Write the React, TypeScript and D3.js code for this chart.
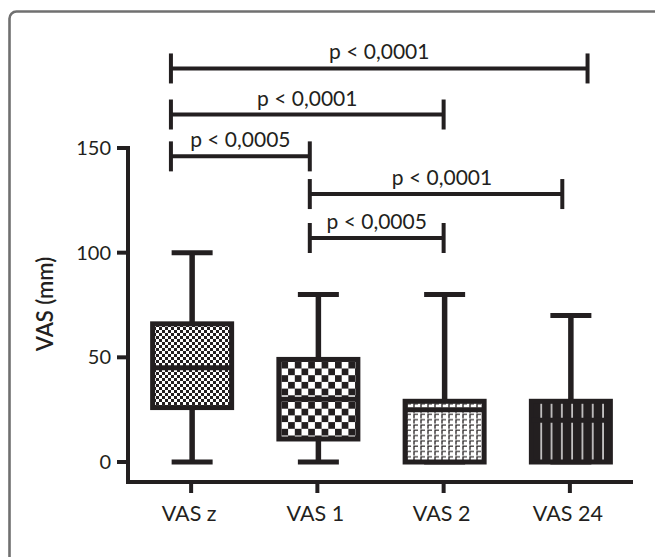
import React, { useEffect, useRef } from "react";
import * as d3 from "d3";

// box plot values (mm)
const categories = ["VAS z", "VAS 1", "VAS 2", "VAS 24"];
const mins = [0, 0, 0, 0];
const q1s = [26, 11, 0, 0];
const medians = [45, 30, 25, 20];
const q3s = [66, 49, 29, 29];
const maxs = [100, 80, 80, 70];
const fills = ["url(#checkSmall)", "url(#checkLarge)", "url(#hooks)", "url(#stripes)"];

const yTicks = [0, 50, 100, 150];

// significance brackets, ends given in category index units (0 = VAS z)
const bracketFrom = [-0.16, -0.16, -0.16, 0.94, 0.94];
const bracketTo = [3.14, 2.0, 0.94, 2.94, 2.0];
const bracketLevel = [188, 166, 146, 128, 107];
const bracketLabels = ["p < 0,0001", "p < 0,0001", "p < 0,0005", "p < 0,0001", "p < 0,0005"];

const ink = "#231f20";
const font = "Lato, 'Noto Sans', sans-serif";

const App = () => {
  const canvas = useRef<SVGSVGElement>(null);

  useEffect(() => {
    const svg = d3.select(canvas.current);
    svg.selectAll("*").remove();

    const x = d3.scalePoint().domain(categories).range([128, 633]).padding(0.5);
    const xIdx = d3.scaleLinear().domain([0, categories.length - 1])
      .range([x(categories[0])!, x(categories[categories.length - 1])!]);
    const y = d3.scaleLinear().domain([0, 150]).range([462, 148]);

    const defs = svg.append("defs");
    const small = defs.append("pattern").attr("id", "checkSmall")
      .attr("patternUnits", "userSpaceOnUse").attr("width", 6).attr("height", 6);
    small.append("rect").attr("width", 6).attr("height", 6).attr("fill", "#fff");
    small.append("rect").attr("width", 3).attr("height", 3).attr("fill", ink);
    small.append("rect").attr("x", 3).attr("y", 3).attr("width", 3).attr("height", 3).attr("fill", ink);

    const large = defs.append("pattern").attr("id", "checkLarge")
      .attr("patternUnits", "userSpaceOnUse").attr("width", 13.4).attr("height", 13.4);
    large.append("rect").attr("width", 13.4).attr("height", 13.4).attr("fill", "#fff");
    large.append("rect").attr("width", 6.7).attr("height", 6.7).attr("fill", ink);
    large.append("rect").attr("x", 6.7).attr("y", 6.7).attr("width", 6.7).attr("height", 6.7).attr("fill", ink);

    const hooks = defs.append("pattern").attr("id", "hooks")
      .attr("patternUnits", "userSpaceOnUse").attr("width", 7).attr("height", 5.3);
    hooks.append("rect").attr("width", 7).attr("height", 5.3).attr("fill", "#fff");
    hooks.append("path").attr("d", "M1,4.8 V1 H5").attr("fill", "none")
      .attr("stroke", ink).attr("stroke-width", 1.3);

    const stripes = defs.append("pattern").attr("id", "stripes")
      .attr("patternUnits", "userSpaceOnUse").attr("width", 10.3).attr("height", 10);
    stripes.append("rect").attr("width", 10.3).attr("height", 10).attr("fill", ink);
    stripes.append("rect").attr("x", 5).attr("width", 1.3).attr("height", 10).attr("fill", "#fff");

    // outer frame
    svg.append("rect")
      .attr("x", 9.5).attr("y", 11.5).attr("width", 660).attr("height", 580).attr("rx", 7)
      .attr("fill", "none").attr("stroke", "#707070").attr("stroke-width", 2.6);

    // axes
    const yAxis = svg.append("g");
    yAxis.append("line").attr("x1", 128).attr("x2", 128)
      .attr("y1", y(150) - 2).attr("y2", 484)
      .attr("stroke", ink).attr("stroke-width", 4);
    yAxis.selectAll(".tick").data(yTicks).enter().append("line")
      .attr("x1", 117).attr("x2", 128).attr("y1", (d) => y(d)).attr("y2", (d) => y(d))
      .attr("stroke", ink).attr("stroke-width", 4);
    yAxis.selectAll("text").data(yTicks).enter().append("text")
      .attr("x", 111).attr("y", (d) => y(d) + 7)
      .attr("text-anchor", "end").attr("font-family", font).attr("font-size", 20)
      .attr("fill", ink).text((d) => d);

    const xAxis = svg.append("g");
    xAxis.append("line").attr("x1", 126).attr("x2", 633).attr("y1", 482).attr("y2", 482)
      .attr("stroke", ink).attr("stroke-width", 4);
    xAxis.selectAll(".tick").data(categories).enter().append("line")
      .attr("x1", (d) => x(d)!).attr("x2", (d) => x(d)!).attr("y1", 482).attr("y2", 493)
      .attr("stroke", ink).attr("stroke-width", 4);
    xAxis.selectAll("text").data(categories).enter().append("text")
      .attr("x", (d) => x(d)! - 2).attr("y", 521)
      .attr("text-anchor", "middle").attr("font-family", font).attr("font-size", 21.5)
      .attr("fill", ink).text((d) => d);

    svg.append("text")
      .attr("transform", `translate(53,304) rotate(-90)`)
      .attr("text-anchor", "middle").attr("font-family", font).attr("font-size", 22)
      .attr("font-weight", 600).attr("fill", ink).text("VAS (mm)");

    // boxes
    const boxW = 79;
    const capW = 41;
    const g = svg.append("g");
    categories.forEach((c, i) => {
      const cx = x(c)! + 1;
      g.append("line").attr("x1", cx).attr("x2", cx)
        .attr("y1", y(maxs[i])).attr("y2", y(q3s[i]))
        .attr("stroke", ink).attr("stroke-width", 5.5);
      g.append("line").attr("x1", cx).attr("x2", cx)
        .attr("y1", y(q1s[i])).attr("y2", y(mins[i]))
        .attr("stroke", ink).attr("stroke-width", 5.5);
      [mins[i], maxs[i]].forEach((v) => {
        g.append("line").attr("x1", cx - capW / 2).attr("x2", cx + capW / 2)
          .attr("y1", y(v)).attr("y2", y(v))
          .attr("stroke", ink).attr("stroke-width", 5);
      });
      g.append("rect")
        .attr("x", cx - boxW / 2).attr("width", boxW)
        .attr("y", y(q3s[i])).attr("height", y(q1s[i]) - y(q3s[i]))
        .attr("fill", fills[i]).attr("stroke", ink).attr("stroke-width", 5);
      g.append("line").attr("x1", cx - boxW / 2).attr("x2", cx + boxW / 2)
        .attr("y1", y(medians[i])).attr("y2", y(medians[i]))
        .attr("stroke", ink).attr("stroke-width", 5);
    });

    // brackets
    const b = svg.append("g");
    bracketLabels.forEach((label, i) => {
      const x1 = xIdx(bracketFrom[i]);
      const x2 = xIdx(bracketTo[i]);
      const yy = y(bracketLevel[i]);
      b.append("line").attr("x1", x1).attr("x2", x2).attr("y1", yy).attr("y2", yy)
        .attr("stroke", ink).attr("stroke-width", 4);
      [x1, x2].forEach((xx) => {
        b.append("line").attr("x1", xx).attr("x2", xx).attr("y1", yy - 15).attr("y2", yy + 15)
          .attr("stroke", ink).attr("stroke-width", 4);
      });
      b.append("text").attr("x", (x1 + x2) / 2 + (i === 3 ? 6 : 0)).attr("y", yy - 9)
        .attr("text-anchor", "middle").attr("font-family", font).attr("font-size", 21)
        .attr("fill", ink).text(label);
    });
  }, []);

  return (
    <svg
      ref={canvas}
      width={655}
      height={557}
      style={{ position: "fixed", left: 0, top: 0, background: "#fff" }}
    ></svg>
  );
};

export default App;
